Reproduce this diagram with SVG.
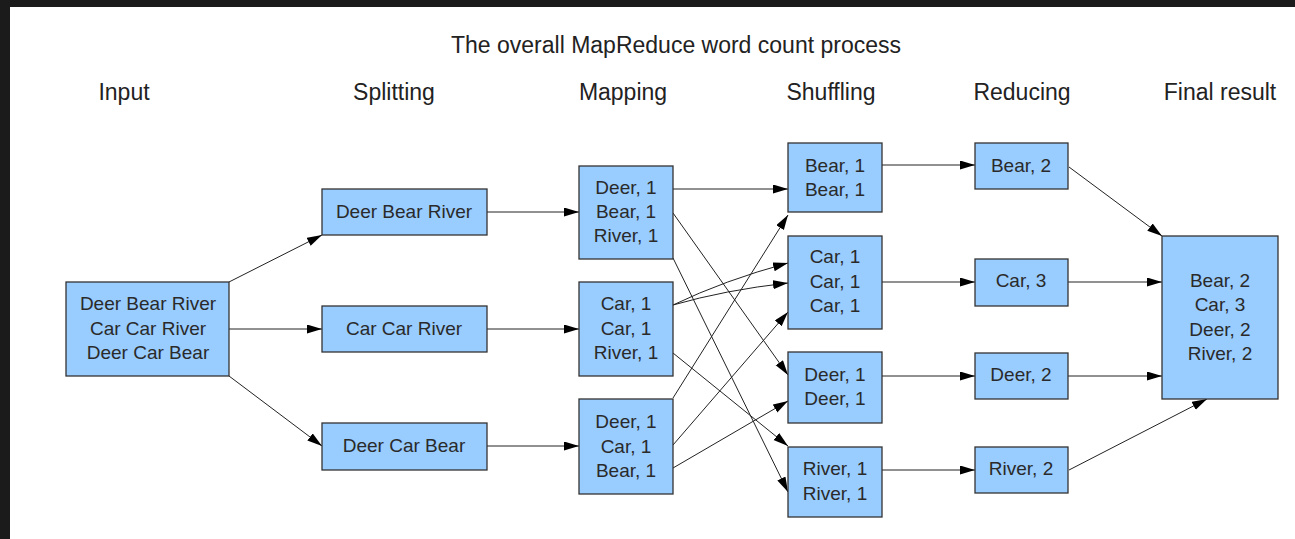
<svg xmlns="http://www.w3.org/2000/svg" width="1295" height="539" viewBox="0 0 1295 539">
<defs>
<style>
.bg{fill:#1b1b1b}
.box{fill:#99ccff;stroke:#333;stroke-width:1.3}
.t{font-family:"Liberation Sans",Arial,sans-serif;font-size:19px;fill:#2a2a2a;text-anchor:middle}
.h{font-family:"Liberation Sans",Arial,sans-serif;font-size:23px;fill:#222;text-anchor:middle}
.c{fill:none;stroke:#222;stroke-width:1;marker-end:url(#ah)}
</style>
<marker id="ah" markerUnits="userSpaceOnUse" markerWidth="16" markerHeight="10" refX="15" refY="4.5" orient="auto">
<path d="M0,0 L15,4.5 L0,9 Z" fill="#000"/>
</marker>
</defs>
<rect x="0" y="0" width="1295" height="539" fill="#fff"/>
<rect class="bg" x="0" y="0" width="1295" height="7"/>
<rect class="bg" x="0" y="0" width="10" height="539"/>

<g id="titles">
<text class="h" x="676" y="53">The overall MapReduce word count process</text>
<text class="h" x="124" y="100">Input</text>
<text class="h" x="394" y="100">Splitting</text>
<text class="h" x="623" y="100">Mapping</text>
<text class="h" x="831" y="100">Shuffling</text>
<text class="h" x="1022" y="100">Reducing</text>
<text class="h" x="1220" y="100">Final result</text>
</g>

<g id="connectors">
<line class="c" x1="229" y1="282" x2="322" y2="235"/>
<line class="c" x1="229" y1="329" x2="322" y2="329"/>
<line class="c" x1="229" y1="376" x2="322" y2="446"/>
<line class="c" x1="487" y1="212" x2="579" y2="212"/>
<line class="c" x1="487" y1="329" x2="579" y2="329"/>
<line class="c" x1="487" y1="446" x2="579" y2="446"/>
<line class="c" x1="673" y1="189" x2="788" y2="189"/>
<line class="c" x1="673" y1="213" x2="788" y2="375"/>
<line class="c" x1="673" y1="258" x2="788" y2="492"/>
<path class="c" d="M673,305 Q725,280 788,263"/>
<path class="c" d="M673,305 Q725,290 788,283"/>
<line class="c" x1="673" y1="353" x2="788" y2="446"/>
<line class="c" x1="673" y1="398" x2="788" y2="215"/>
<line class="c" x1="673" y1="445" x2="788" y2="312"/>
<line class="c" x1="673" y1="468" x2="788" y2="401"/>
<line class="c" x1="882" y1="165" x2="975" y2="165"/>
<line class="c" x1="882" y1="282" x2="975" y2="282"/>
<line class="c" x1="882" y1="376" x2="975" y2="376"/>
<line class="c" x1="882" y1="470" x2="975" y2="470"/>
<line class="c" x1="1069" y1="167" x2="1162" y2="236"/>
<line class="c" x1="1068" y1="282" x2="1162" y2="282"/>
<line class="c" x1="1068" y1="376" x2="1162" y2="376"/>
<line class="c" x1="1069" y1="470" x2="1207" y2="399"/>
</g>

<g id="input">
<rect class="box" x="66" y="282" width="163" height="94"/>
<text class="t" x="148" y="310">Deer Bear River</text>
<text class="t" x="148" y="335">Car Car River</text>
<text class="t" x="148" y="359">Deer Car Bear</text>
</g>

<g id="split1"><rect class="box" x="322" y="189" width="165" height="46"/><text class="t" x="404" y="218">Deer Bear River</text></g>
<g id="split2"><rect class="box" x="322" y="306" width="165" height="46"/><text class="t" x="404" y="335">Car Car River</text></g>
<g id="split3"><rect class="box" x="322" y="423" width="165" height="47"/><text class="t" x="404" y="452">Deer Car Bear</text></g>

<g id="map1"><rect class="box" x="579" y="166" width="94" height="93"/>
<text class="t" x="626" y="194">Deer, 1</text><text class="t" x="626" y="218">Bear, 1</text><text class="t" x="626" y="242">River, 1</text></g>
<g id="map2"><rect class="box" x="579" y="282" width="94" height="94"/>
<text class="t" x="626" y="310">Car, 1</text><text class="t" x="626" y="335">Car, 1</text><text class="t" x="626" y="359">River, 1</text></g>
<g id="map3"><rect class="box" x="579" y="399" width="94" height="95"/>
<text class="t" x="626" y="428">Deer, 1</text><text class="t" x="626" y="453">Car, 1</text><text class="t" x="626" y="477">Bear, 1</text></g>

<g id="shuf1"><rect class="box" x="788" y="143" width="94" height="69"/>
<text class="t" x="835" y="172">Bear, 1</text><text class="t" x="835" y="196">Bear, 1</text></g>
<g id="shuf2"><rect class="box" x="788" y="236" width="94" height="93"/>
<text class="t" x="835" y="263">Car, 1</text><text class="t" x="835" y="288">Car, 1</text><text class="t" x="835" y="312">Car, 1</text></g>
<g id="shuf3"><rect class="box" x="788" y="352" width="94" height="71"/>
<text class="t" x="835" y="381">Deer, 1</text><text class="t" x="835" y="405">Deer, 1</text></g>
<g id="shuf4"><rect class="box" x="788" y="447" width="94" height="70"/>
<text class="t" x="835" y="475">River, 1</text><text class="t" x="835" y="500">River, 1</text></g>

<g id="red1"><rect class="box" x="975" y="143" width="93" height="46"/><text class="t" x="1021" y="172">Bear, 2</text></g>
<g id="red2"><rect class="box" x="975" y="259" width="93" height="47"/><text class="t" x="1021" y="287">Car, 3</text></g>
<g id="red3"><rect class="box" x="975" y="353" width="93" height="46"/><text class="t" x="1021" y="381">Deer, 2</text></g>
<g id="red4"><rect class="box" x="975" y="447" width="93" height="46"/><text class="t" x="1021" y="475">River, 2</text></g>

<g id="final"><rect class="box" x="1162" y="236" width="116" height="163"/>
<text class="t" x="1220" y="287">Bear, 2</text><text class="t" x="1220" y="311">Car, 3</text><text class="t" x="1220" y="336">Deer, 2</text><text class="t" x="1220" y="360">River, 2</text></g>
</svg>
